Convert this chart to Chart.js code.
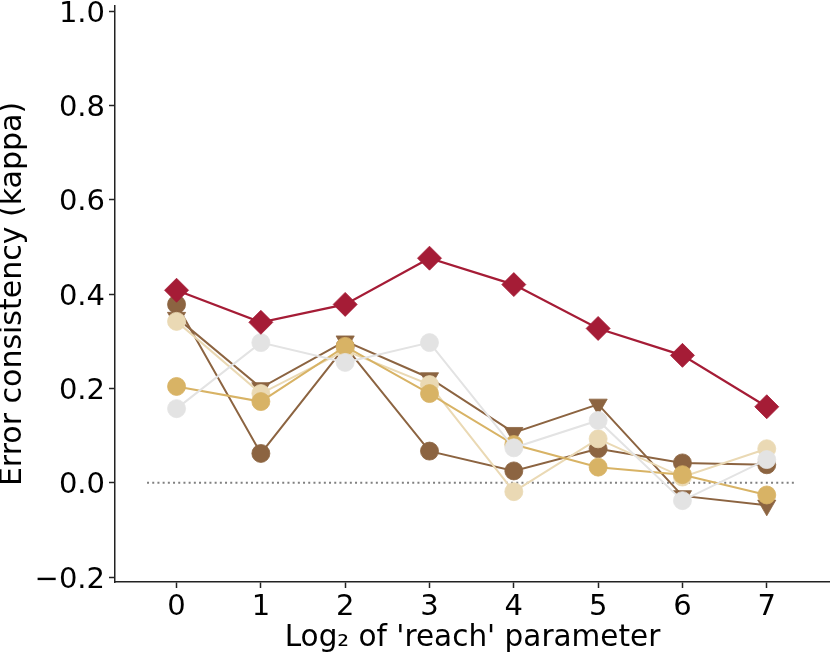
<!DOCTYPE html>
<html>
<head>
<meta charset="utf-8">
<script src="https://cdn.jsdelivr.net/npm/chart.js@4/dist/chart.umd.min.js"></script>
<style>
  html, body { margin: 0; padding: 0; background: #fff; }
  #wrap { width: 830px; height: 656px; }
</style>
</head>
<body>
<div id="wrap"><canvas id="c" width="830" height="656"></canvas></div>
<script>
// ---- data ----
const xValues = [0, 1, 2, 3, 4, 5, 6, 7];
const xTicks = [0, 1, 2, 3, 4, 5, 6, 7];
const yTicks = [-0.2, 0.0, 0.2, 0.4, 0.6, 0.8, 1.0];
const zeroLineX = [-0.35, 7.35];
const zeroLineY = [0, 0];

const redDiamonds   = [0.408, 0.340, 0.378, 0.476, 0.420, 0.327, 0.270, 0.161];
const greyCircles   = [0.157, 0.297, 0.255, 0.297, 0.074, 0.132, -0.038, 0.049];
const goldCircles   = [0.204, 0.172, 0.289, 0.189, 0.081, 0.033, 0.017, -0.026];
const tanCircles    = [0.342, 0.189, 0.280, 0.208, -0.019, 0.093, 0.012, 0.072];
const brownCircles  = [0.378, 0.062, 0.289, 0.067, 0.025, 0.072, 0.042, 0.038];
const brownTriangles= [0.350, 0.201, 0.300, 0.222, 0.106, 0.166, -0.028, -0.048];

const xTitle = "Log\u2082 of 'reach' parameter";
const yTitle = "Error consistency (kappa)";

// ---- build ----
const pts = (xs, ys) => xs.map((x, i) => ({ x: x, y: ys[i] }));
const FONT = "'DejaVu Sans', sans-serif";

function series(ys, color, style, radius, order, extra) {
  return Object.assign({
    data: pts(xValues, ys),
    showLine: true,
    borderColor: color,
    backgroundColor: color,
    borderWidth: 2,
    pointStyle: style,
    pointRadius: radius,
    pointHoverRadius: radius,
    pointBackgroundColor: color,
    pointBorderColor: color,
    pointBorderWidth: 0.8,
    tension: 0,
    order: order
  }, extra || {});
}

const datasets = [
  series(redDiamonds, '#A51C36', 'rectRot', 12, 0, { borderWidth: 2.2 }),
  series(greyCircles, '#E3E3E3', 'circle', 9, 1),
  series(goldCircles, '#D8B365', 'circle', 9, 2),
  series(tanCircles, '#EAD9B4', 'circle', 9, 3),
  series(brownCircles, '#8C6441', 'circle', 9, 4),
  series(brownTriangles, '#8C6441', 'triangle', 10.5, 5, { pointRotation: 180 }),
  {
    data: pts(zeroLineX, zeroLineY),
    showLine: true,
    borderColor: '#808080',
    borderWidth: 2,
    borderDash: [2, 3.2],
    pointRadius: 0,
    order: 6
  }
];

new Chart(document.getElementById('c'), {
  type: 'scatter',
  data: { datasets: datasets },
  options: {
    responsive: false,
    animation: false,
    devicePixelRatio: 1,
    layout: { autoPadding: false, padding: { top: 6, right: 0, bottom: 0, left: 0 } },
    plugins: { legend: { display: false }, tooltip: { enabled: false } },
    scales: {
      x: {
        type: 'linear',
        min: -0.73,
        max: 7.75,
        afterBuildTicks: s => { s.ticks = xTicks.map(v => ({ value: v })); },
        afterFit: s => { s.height = 74; s.paddingLeft = 0; s.paddingRight = 0; },
        ticks: {
          autoSkip: false, maxRotation: 0, color: '#000', padding: 2,
          font: { family: FONT, size: 29 },
          callback: v => String(v)
        },
        grid: { drawOnChartArea: false, drawTicks: true, tickLength: 6, tickWidth: 1.5, tickColor: '#222' },
        border: { display: true, color: '#222', width: 1.5 },
        title: {
          display: true, text: xTitle, color: '#000',
          font: { family: FONT, size: 29.5, lineHeight: 1 },
          padding: { top: 0, bottom: 2.5 }
        }
      },
      y: {
        type: 'linear',
        min: -0.2105,
        max: 1.0106,
        afterBuildTicks: s => { s.ticks = yTicks.map(v => ({ value: v })); },
        afterFit: s => { s.width = 115; s.paddingTop = 0; s.paddingBottom = 0; },
        ticks: {
          color: '#000', padding: 4, labelOffset: 3,
          font: { family: FONT, size: 29 },
          callback: v => v.toFixed(1).replace('-', '\u2212')
        },
        grid: { drawOnChartArea: false, drawTicks: true, tickLength: 6, tickWidth: 1.5, tickColor: '#222' },
        border: { display: true, color: '#222', width: 1.5 },
        title: {
          display: true, text: yTitle, color: '#000',
          font: { family: FONT, size: 30, lineHeight: 1 },
          padding: { top: -2, bottom: 0 }
        }
      }
    }
  }
});
</script>
</body>
</html>
